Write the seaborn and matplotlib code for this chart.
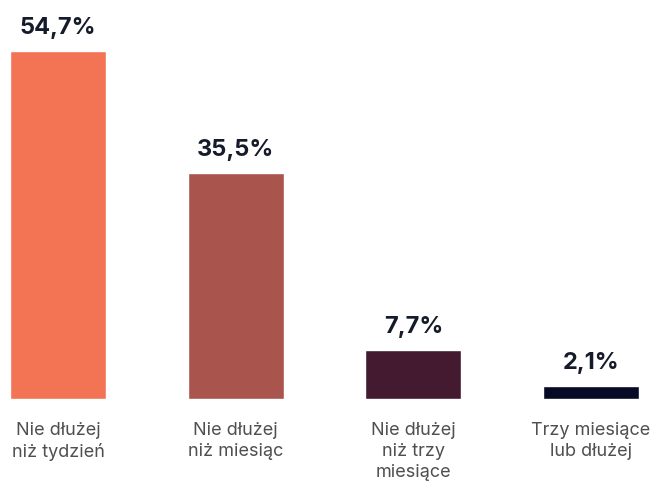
import matplotlib
matplotlib.use("Agg")
import matplotlib.pyplot as plt
import seaborn as sns
import pandas as pd

categories = ["Nie dłużej\nniż tydzień", "Nie dłużej\nniż miesiąc", "Nie dłużej\nniż trzy\nmiesiące", "Trzy miesiące\nlub dłużej"]
values = [54.7, 35.5, 7.7, 2.1]
value_labels = ["54,7%", "35,5%", "7,7%", "2,1%"]
colors = ["#F37355", "#A9544C", "#431A30", "#060A25"]

sns.set_theme(style="white")
plt.rcParams["font.family"] = ["Inter", "DejaVu Sans"]

fig = plt.figure(figsize=(6.54, 4.85), dpi=100)
ax = fig.add_axes([10/654, 85/485, 629/654, 348/485])

df = pd.DataFrame({"cat": categories, "val": values})
sns.barplot(data=df, x="cat", y="val", hue="cat", palette=colors, legend=False,
            width=0.54, ax=ax, saturation=1)

ax.set_xlim(-0.27, 3.27)
ax.set_ylim(0, 54.7)
for i, (v, lab) in enumerate(zip(values, value_labels)):
    ax.text(i, v + 2.8, lab, ha="center", va="baseline", fontsize=17,
            fontweight="bold", color="#161B2B", clip_on=False)

ax.set_xlabel("")
ax.set_ylabel("")
ax.set_yticks([])
ax.tick_params(axis="x", length=0, pad=16, labelsize=13, labelcolor="#4f4f4f")
for lbl in ax.get_xticklabels():
    lbl.set_linespacing(1.3)
for s in ax.spines.values():
    s.set_visible(False)

fig.savefig("out.png", dpi=100)
